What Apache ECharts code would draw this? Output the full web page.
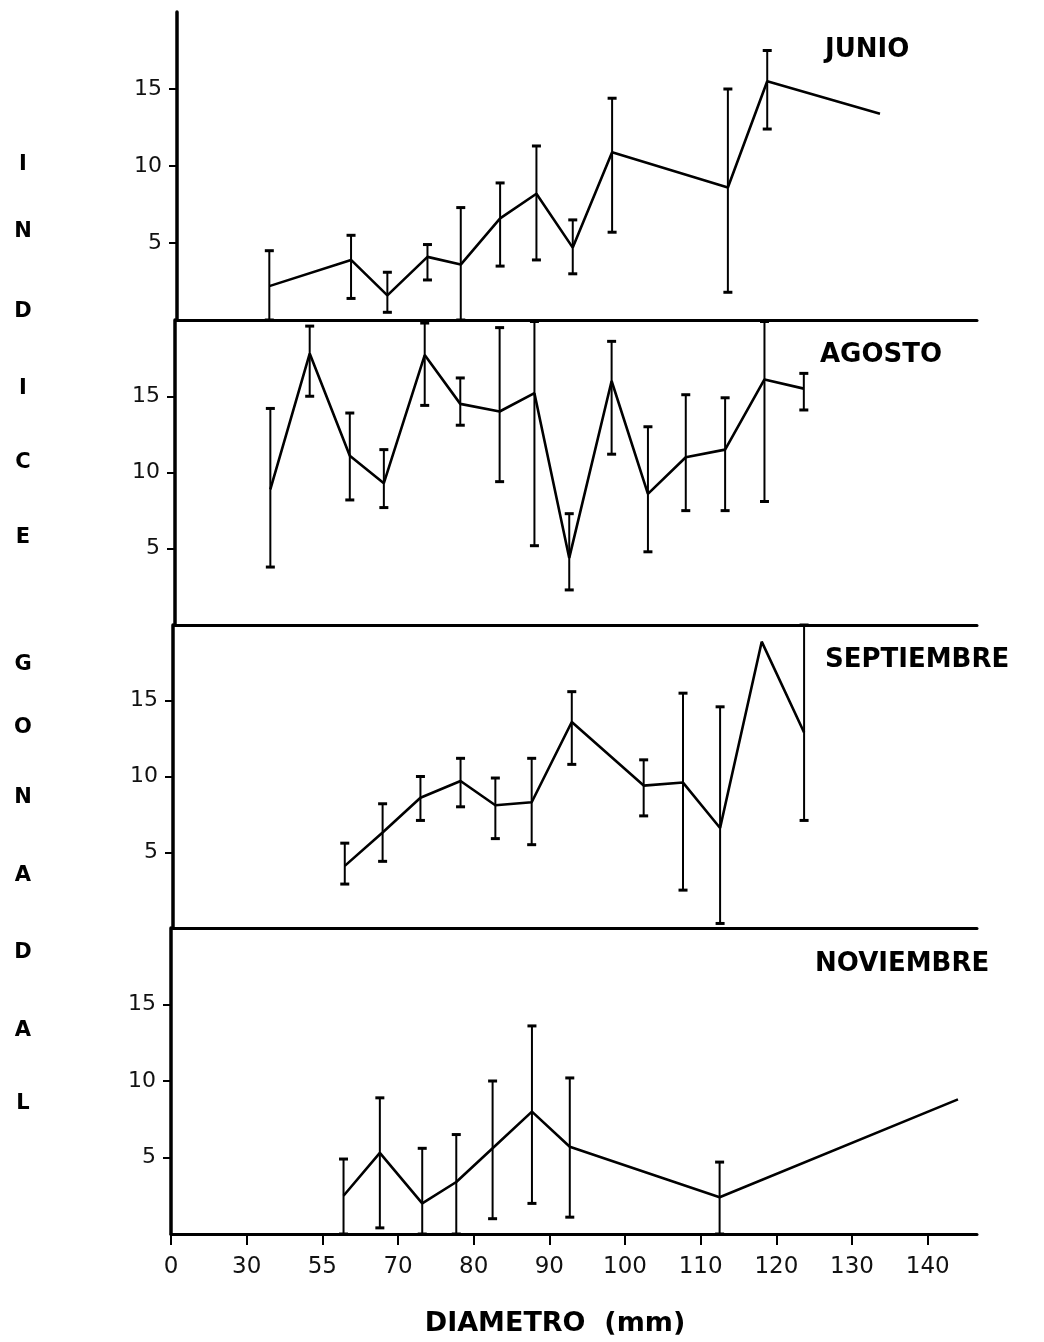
<!DOCTYPE html>
<html>
<head>
<meta charset="utf-8">
<script src="https://cdn.jsdelivr.net/npm/echarts@6/dist/echarts.min.js"></script>
<style>
html,body{margin:0;padding:0;background:#fff;}
#chart{width:1044px;height:1342px;}
</style>
</head>
<body>
<div id="chart"></div>
<script>
// ---------- DATA ----------
const xTickLabels = ['0','30','55','70','80','90','100','110','120','130','140'];
const yTickValues = [5, 10, 15];
const panelNames = ['JUNIO', 'AGOSTO', 'SEPTIEMBRE', 'NOVIEMBRE'];
const yAxisTitle = 'INDICE GONADAL';
const xAxisTitle = 'DIAMETRO  (mm)';

// x positions are given on the equally spaced tick scale (0 = "0", 1 = "30", ... 10 = "140")
const junX  = [1.22, 2.30, 2.78, 3.31, 3.75, 4.27, 4.75, 5.23, 5.75, 7.28, 7.80, 9.29];
const junY  = [2.2, 3.9, 1.6, 4.1, 3.6, 6.6, 8.2, 4.7, 10.9, 8.6, 15.5, 13.4];
const junLo = [0, 1.4, 0.5, 2.6, 0, 3.5, 3.9, 3.0, 5.7, 1.8, 12.4, null];
const junHi = [4.5, 5.5, 3.1, 4.9, 7.3, 8.9, 11.3, 6.5, 14.4, 15.0, 17.5, null];

const agoX  = [1.26, 1.78, 2.31, 2.76, 3.30, 3.77, 4.29, 4.75, 5.21, 5.77, 6.25, 6.75, 7.27, 7.79, 8.31];
const agoY  = [8.9, 17.8, 11.1, 9.3, 17.7, 14.5, 14.0, 15.2, 4.4, 16.0, 8.6, 11.0, 11.5, 16.1, 15.5];
const agoLo = [3.8, 15.0, 8.2, 7.7, 14.4, 13.1, 9.4, 5.2, 2.3, 11.2, 4.8, 7.5, 7.5, 8.1, 14.1];
const agoHi = [14.2, 19.6, 13.9, 11.5, 19.8, 16.2, 19.5, 19.9, 7.3, 18.6, 13.0, 15.1, 14.9, 19.9, 16.5];

const sepX  = [2.27, 2.77, 3.27, 3.80, 4.26, 4.74, 5.27, 6.22, 6.74, 7.23, 7.78, 8.34];
const sepY  = [4.1, 6.3, 8.6, 9.7, 8.1, 8.3, 13.6, 9.4, 9.6, 6.6, 18.9, 12.9];
const sepLo = [2.9, 4.4, 7.1, 8.0, 5.9, 5.5, 10.8, 7.4, 2.5, 0.3, null, 7.1];
const sepHi = [5.6, 8.2, 10.0, 11.2, 9.9, 11.2, 15.6, 11.1, 15.5, 14.6, null, 20];

const novX  = [2.28, 2.76, 3.32, 3.77, 4.25, 4.77, 5.27, 7.25, 10.40];
const novY  = [2.5, 5.3, 2.0, 3.4, 5.6, 8.0, 5.7, 2.4, 8.8];
const novLo = [0, 0.4, 0, 0, 1.0, 2.0, 1.1, 0, null];
const novHi = [4.9, 8.9, 5.6, 6.5, 10.0, 13.6, 10.2, 4.7, null];

const panels = [
  { x: junX, y: junY, lo: junLo, hi: junHi },
  { x: agoX, y: agoY, lo: agoLo, hi: agoHi },
  { x: sepX, y: sepY, lo: sepLo, hi: sepHi },
  { x: novX, y: novY, lo: novLo, hi: novHi }
];

// ---------- LAYOUT ----------
const FONT = '"DejaVu Sans", sans-serif';
const panelTop    = [12, 320, 625, 928];
const panelBottom = [320, 625, 928, 1234];
const panelLeft   = [177, 175, 173, 171];
const rightEdge = 977;
const unitPx = 75.67;
const titlePos = [[825, 52], [820, 357], [825, 662], [815, 966]];
const letterY = [165, 232, 312, 389, 463, 538, 665, 728, 798, 876, 953, 1031, 1104];

const grids = [], xAxes = [], yAxes = [], series = [];
const tickIdx = xTickLabels.map((_, i) => i);

panels.forEach((p, i) => {
  const isLast = i === panels.length - 1;
  grids.push({ left: panelLeft[i], top: panelTop[i], width: rightEdge - panelLeft[i], height: panelBottom[i] - panelTop[i] });
  xAxes.push({
    type: 'value', gridIndex: i, min: 0, max: (rightEdge - panelLeft[i]) / unitPx,
    axisLine: { show: true, onZero: false, lineStyle: { color: '#000', width: 3 } },
    axisTick: { show: isLast, customValues: tickIdx, length: 11, lineStyle: { color: '#000', width: 2 } },
    axisLabel: { show: isLast, customValues: tickIdx, formatter: v => xTickLabels[Math.round(v)],
      fontFamily: FONT, fontSize: 23, color: '#111', margin: 22 },
    splitLine: { show: false }
  });
  yAxes.push({
    type: 'value', gridIndex: i, min: 0, max: 20,
    axisLine: { show: true, onZero: false, lineStyle: { color: '#000', width: 3.5 } },
    axisTick: { show: true, customValues: yTickValues, length: 8, lineStyle: { color: '#000', width: 2 } },
    axisLabel: { show: true, customValues: yTickValues, fontFamily: FONT, fontSize: 22, color: '#111', margin: 15 },
    splitLine: { show: false }
  });
  series.push({
    type: 'line', xAxisIndex: i, yAxisIndex: i,
    data: p.x.map((xv, k) => [xv, p.y[k]]),
    symbol: 'none', lineStyle: { color: '#000', width: 2.6 }, animation: false, silent: true
  });
  const eb = [];
  p.x.forEach((xv, k) => { if (p.lo[k] !== null && p.hi[k] !== null) eb.push([xv, p.lo[k], p.hi[k]]); });
  series.push({
    type: 'custom', xAxisIndex: i, yAxisIndex: i, data: eb, clip: false, animation: false, silent: true,
    encode: { x: 0, y: [1, 2] },
    renderItem: function (params, api) {
      const xv = api.value(0);
      const top = api.coord([xv, api.value(2)]);
      const bot = api.coord([xv, api.value(1)]);
      const w = 4.5;
      const st = { stroke: '#000', lineWidth: 2 };
      const cap = { stroke: '#000', lineWidth: 3 };
      return { type: 'group', children: [
        { type: 'line', shape: { x1: top[0], y1: top[1], x2: bot[0], y2: bot[1] }, style: st },
        { type: 'line', shape: { x1: top[0] - w, y1: top[1], x2: top[0] + w, y2: top[1] }, style: cap },
        { type: 'line', shape: { x1: bot[0] - w, y1: bot[1], x2: bot[0] + w, y2: bot[1] }, style: cap }
      ]};
    }
  });
});

const graphics = [];
panelNames.forEach((name, i) => {
  graphics.push({ type: 'text', left: titlePos[i][0], top: titlePos[i][1] - 15,
    style: { text: name, font: 'bold 26px ' + FONT, fill: '#000' } });
});
const letters = yAxisTitle.replace(/\s+/g, '').split('');
letters.forEach((ch, k) => {
  graphics.push({ type: 'text', x: 23, y: letterY[k],
    style: { text: ch, font: 'bold 21px ' + FONT, fill: '#000', textAlign: 'center', textVerticalAlign: 'middle' } });
});
graphics.push({ type: 'text', x: 555, y: 1324,
  style: { text: xAxisTitle, font: 'bold 27px ' + FONT, fill: '#000', textAlign: 'center', textVerticalAlign: 'middle' } });

const chart = echarts.init(document.getElementById('chart'), null, { renderer: 'canvas' });
chart.setOption({
  backgroundColor: '#fff',
  animation: false,
  grid: grids,
  xAxis: xAxes,
  yAxis: yAxes,
  series: series,
  graphic: graphics
});
</script>
</body>
</html>
